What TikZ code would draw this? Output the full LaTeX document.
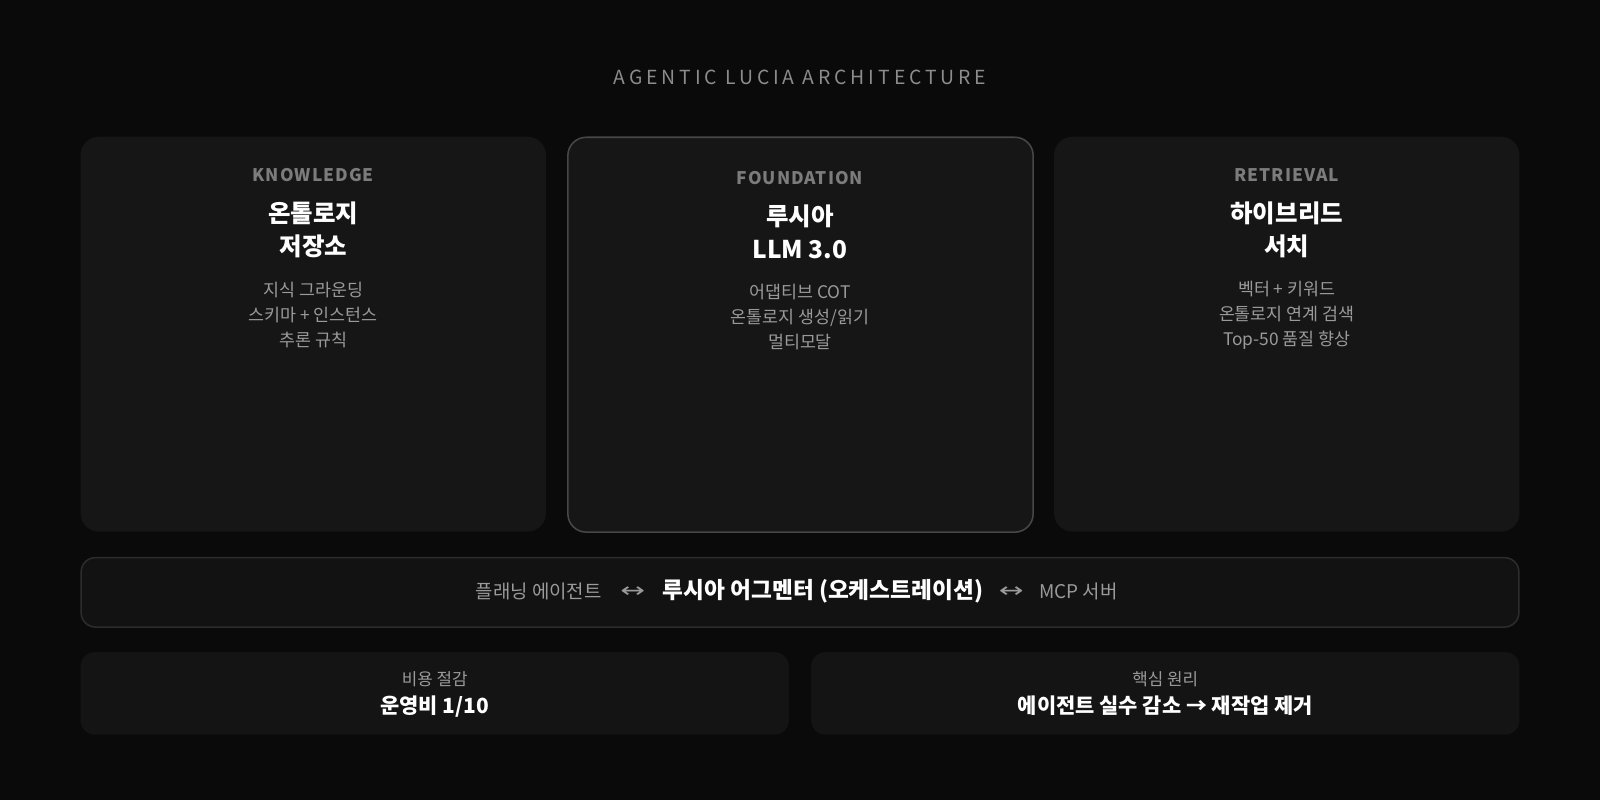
\documentclass[tikz,border=0pt]{standalone}
\usepackage{fontspec}
\setmainfont{Noto Sans CJK KR}
\newfontfamily\spacedfont[LetterSpace=20]{Noto Sans CJK KR}
\newfontfamily\capfont[LetterSpace=6]{Noto Sans CJK KR}
\newfontfamily\arrowfont{DejaVu Sans}
\definecolor{bg}{HTML}{0A0A0A}
\definecolor{card}{HTML}{161616}
\definecolor{midborder}{HTML}{474747}
\definecolor{bar}{HTML}{121212}
\definecolor{barborder}{HTML}{2C2C2C}
\definecolor{bottomcard}{HTML}{141414}
\definecolor{capgray}{HTML}{7C7C7C}
\definecolor{subgray}{HTML}{9A9A9A}
\definecolor{titlegray}{HTML}{8C8C8C}
\tikzset{
  cardbox/.style={fill=card, rounded corners=18pt},
  capstyle/.style={text=capgray, font=\capfont\bfseries\fontsize{17}{20}\selectfont, anchor=center},
  headstyle/.style={text=white, font=\bfseries\fontsize{24}{32}\selectfont, align=center, anchor=center},
  substyle/.style={text=subgray, font=\fontsize{17}{24.5}\selectfont, align=center, anchor=center},
  bargray/.style={text=subgray, font=\fontsize{18.5}{22}\selectfont},
  bararrow/.style={text=subgray, font=\arrowfont\fontsize{20}{22}\selectfont, anchor=center},
  barbold/.style={text=white, font=\bfseries\fontsize{22.2}{24}\selectfont},
  botsmall/.style={text=subgray, font=\fontsize{16.5}{20}\selectfont, anchor=center},
  botbig/.style={text=white, font=\bfseries\fontsize{20.5}{24}\selectfont, anchor=center},
}
\begin{document}
\begin{tikzpicture}[x=1pt,y=-1pt]
\fill[bg] (0,0) rectangle (1568,784);
\useasboundingbox (0,0) rectangle (1568,784);
\node[text=titlegray, font=\spacedfont\fontsize{19}{22}\selectfont] (title) at (784,76) {AGENTIC LUCIA ARCHITECTURE};
% cards
\fill[cardbox] (79,134) rectangle (535,521);
\fill[cardbox, draw=midborder, line width=1.5pt] (556.5,134.5) rectangle (1012.5,521.5);
\fill[cardbox] (1033,134) rectangle (1489,521);
% card 1
\node[capstyle] (k1) at (307,172) {KNOWLEDGE};
\node[headstyle] (k2) at (307,225) {온톨로지\\저장소};
\node[substyle] (k3) at (307,309) {지식 그라운딩\\스키마 + 인스턴스\\추론 규칙};
% card 2
\node[capstyle] (f1) at (784,174) {FOUNDATION};
\node[headstyle] (f2) at (784,227) {루시아\\LLM 3.0};
\node[substyle] (f3) at (784,311) {어댑티브 COT\\온톨로지 생성/읽기\\멀티모달};
% card 3
\node[capstyle] (r1) at (1261,172) {RETRIEVAL};
\node[headstyle] (r2) at (1261,225) {하이브리드\\서치};
\node[substyle] (r3) at (1261,309) {벡터 + 키워드\\온톨로지 연계 검색\\Top-50 품질 향상};
% bar
\filldraw[fill=bar, draw=barborder, line width=1.5pt, rounded corners=14pt] (79.5,546.5) rectangle (1488.5,614.5);
\node[bargray, anchor=east] (b1) at (593,580) {플래닝 에이전트};
\node[bararrow] (b2) at (620,580) {\scalebox{1.45}[1]{↔}};
\node[barbold, anchor=west] (b3) at (646,579) {루시아 어그멘터 (오케스트레이션)};
\node[bararrow] (b4) at (991,580) {\scalebox{1.45}[1]{↔}};
\node[bargray, anchor=west] (b5) at (1015,580) {MCP 서버};
% bottom
\fill[bottomcard, rounded corners=14pt] (79,639) rectangle (773,720);
\fill[bottomcard, rounded corners=14pt] (795,639) rectangle (1489,720);
\node[botsmall] (s1) at (426,666) {비용 절감};
\node[botbig] (s2) at (426,692) {운영비 1/10};
\node[botsmall] (s3) at (1142,666) {핵심 원리};
\node[botbig] (s4) at (1142,692) {에이전트 실수 감소 → 재작업 제거};
\end{tikzpicture}
\end{document}
